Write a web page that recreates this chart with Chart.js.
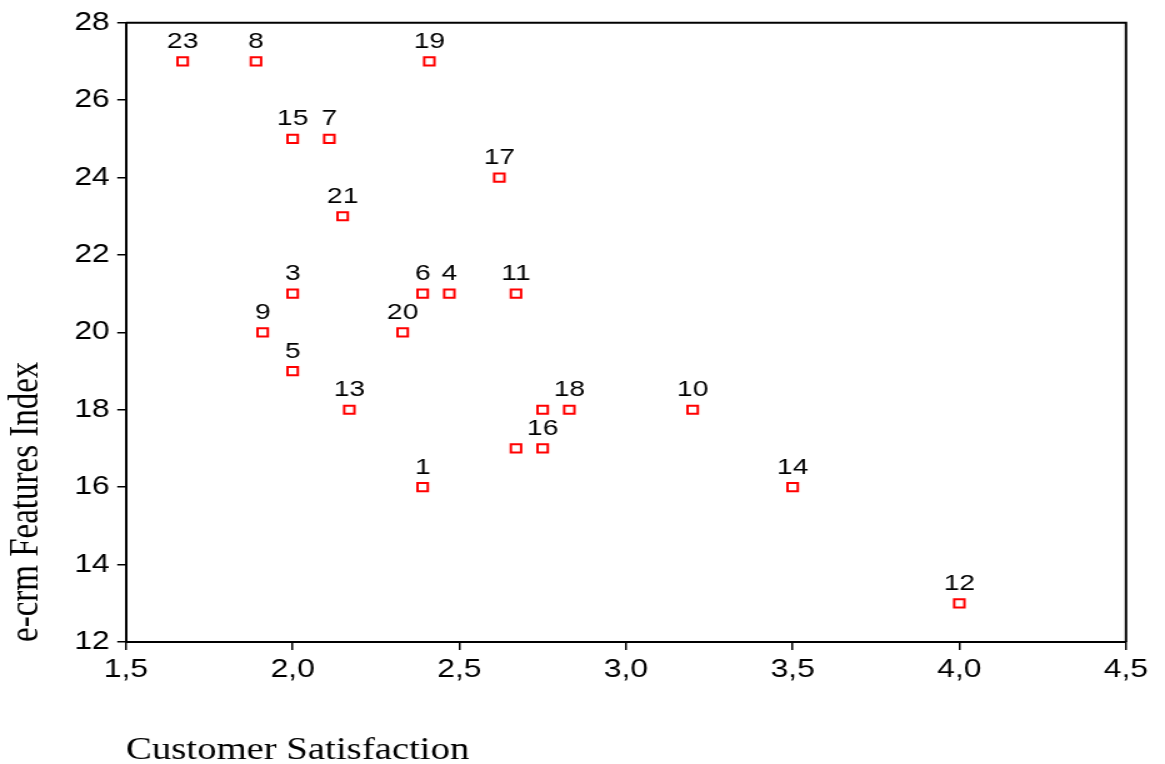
<!DOCTYPE html>
<html>
<head>
<meta charset="utf-8">
<script src="https://cdn.jsdelivr.net/npm/chart.js@4/dist/chart.umd.min.js"></script>
<style>
  html, body { margin: 0; padding: 0; background: #fff; overflow: hidden; }
  /* the plot is drawn on a narrower canvas and widened horizontally */
  #wrap { width: 932px; height: 764px; transform: scaleX(1.25); transform-origin: 0 0; }
</style>
</head>
<body>
<div id="wrap"><canvas id="c" width="932" height="764"></canvas></div>
<script>
// Case numbers shown above each marker ('' = no label drawn)
const caseLabels    = ['23', '8', '19', '15', '7', '17', '21', '3', '6', '4', '11', '9', '20', '5', '13', '18', '',   '10', '16', '',   '1',  '14', '12'];
// Customer Satisfaction (x)
const satisfaction  = [1.67, 1.89, 2.41, 2.00, 2.11, 2.62, 2.15, 2.00, 2.39, 2.47, 2.67, 1.91, 2.33, 2.00, 2.17, 2.83, 2.75, 3.20, 2.75, 2.67, 2.39, 3.50, 4.00];
// e-crm Features Index (y)
const featuresIndex = [27,   27,   27,   25,   25,   24,   23,   21,   21,   21,   21,   20,   20,   19,   18,   18,   18,   18,   17,   17,   16,   16,   13];

const xTickValues = [1.5, 2.0, 2.5, 3.0, 3.5, 4.0, 4.5];
const yTickValues = [12, 14, 16, 18, 20, 22, 24, 26, 28];

const SANS = "'Liberation Sans', Arial, sans-serif";
const SERIF = "'Liberation Serif', 'Times New Roman', serif";

const points = satisfaction.map((x, i) => ({ x: x, y: featuresIndex[i] }));

// Frame around the plotting region (top and right sides close the box)
const framePlugin = {
  id: 'frame',
  beforeDatasetsDraw(chart) {
    const { ctx, chartArea: a } = chart;
    ctx.save();
    ctx.strokeStyle = '#000';
    ctx.lineWidth = 2;
    ctx.beginPath();
    ctx.moveTo(a.left, a.top);
    ctx.lineTo(a.right, a.top);
    ctx.lineTo(a.right, a.bottom);
    ctx.stroke();
    ctx.restore();
  }
};

// Case number written just above each marker
const caseLabelPlugin = {
  id: 'caseLabels',
  afterDatasetsDraw(chart) {
    const { ctx } = chart;
    const meta = chart.getDatasetMeta(0);
    ctx.save();
    ctx.font = '22.5px ' + SANS;
    ctx.fillStyle = '#000';
    ctx.textAlign = 'center';
    ctx.textBaseline = 'alphabetic';
    meta.data.forEach((el, i) => {
      const t = caseLabels[i];
      if (t) ctx.fillText(t, el.x, el.y - 13.5);
    });
    ctx.restore();
  }
};

const fmtComma = v => Number(v).toFixed(1).replace('.', ',');

new Chart(document.getElementById('c'), {
  type: 'scatter',
  data: {
    datasets: [{
      data: points,
      pointStyle: 'rect',
      pointRadius: 5.8,
      pointHoverRadius: 5.8,
      pointBorderWidth: 2,
      pointBorderColor: '#ff0000',
      pointBackgroundColor: '#ffffff'
    }]
  },
  options: {
    responsive: false,
    animation: false,
    devicePixelRatio: 1,
    layout: { padding: { top: 22.7, right: 31.2, left: 0, bottom: 0 } },
    plugins: { legend: { display: false }, tooltip: { enabled: false } },
    scales: {
      x: {
        type: 'linear',
        min: 1.5, max: 4.5,
        afterBuildTicks: ax => { ax.ticks = xTickValues.map(v => ({ value: v })); },
        afterFit: ax => { ax.height = 122; },
        border: { display: true, color: '#000', width: 2 },
        grid: { drawOnChartArea: false, drawTicks: true, tickLength: 8, color: '#000', lineWidth: 1.5 },
        ticks: {
          color: '#000', padding: 5,
          font: { family: SANS, size: 25.5 },
          maxRotation: 0,
          callback: v => fmtComma(v)
        },
        title: {
          display: true,
          text: 'Customer Satisfaction',
          align: 'start',
          color: '#000',
          font: { family: SERIF, size: 31, lineHeight: 0.8 },
          padding: { top: 0, bottom: 1 }
        }
      },
      y: {
        type: 'linear',
        min: 12, max: 28,
        afterBuildTicks: ax => { ax.ticks = yTickValues.map(v => ({ value: v })); },
        afterFit: ax => { ax.width = 100.8; },
        border: { display: true, color: '#000', width: 2 },
        grid: { drawOnChartArea: false, drawTicks: true, tickLength: 7, color: '#000', lineWidth: 1.5 },
        ticks: {
          color: '#000', padding: 6,
          font: { family: SANS, size: 25.5 },
          callback: v => String(v)
        },
        title: {
          display: true,
          text: 'e-crm Features Index',
          align: 'start',
          color: '#000',
          font: { family: SERIF, size: 33, lineHeight: 1.2 },
          padding: { top: 2, bottom: 0 }
        }
      }
    }
  },
  plugins: [framePlugin, caseLabelPlugin]
});
</script>
</body>
</html>
